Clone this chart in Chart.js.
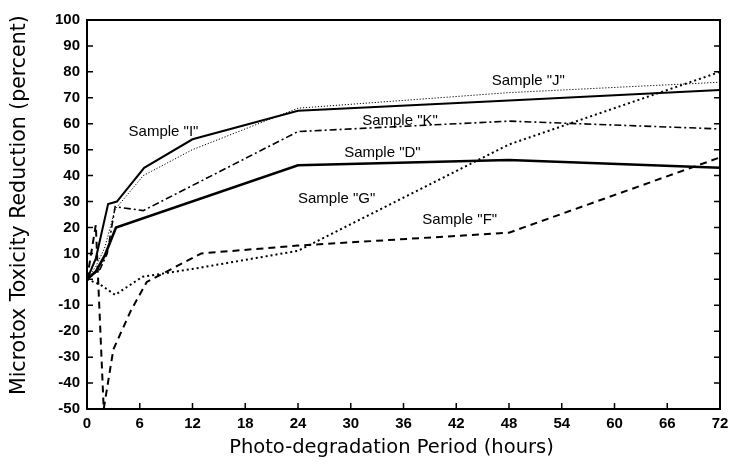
<!DOCTYPE html>
<html>
<head>
<meta charset="utf-8">
<script src="https://cdn.jsdelivr.net/npm/chart.js@4/dist/chart.umd.min.js"></script>
<style>
  html, body { margin: 0; padding: 0; background: #fff; }
  #wrap { width: 730px; height: 467px; position: relative; }
</style>
</head>
<body>
<div id="wrap"><canvas id="c"></canvas></div>
<script>
// ---- data ----
const xTicks = [0, 6, 12, 18, 24, 30, 36, 42, 48, 54, 60, 66, 72];
const yTicks = [-50, -40, -30, -20, -10, 0, 10, 20, 30, 40, 50, 60, 70, 80, 90, 100];

const sampleD_hours  = [0, 1, 2, 3.3, 24, 48, 72];
const sampleD_values = [0, 3, 9, 20, 44, 46, 43];

const sampleI_hours  = [0, 1, 2.4, 3.4, 6.5, 12, 24, 48, 72];
const sampleI_values = [0, 8, 29, 30, 43, 54, 65, 69, 73];

const sampleJ_hours  = [0, 1, 2, 3.2, 6.4, 12, 24, 48, 72];
const sampleJ_values = [0, 5, 12, 27, 40, 50, 66, 72, 76];

const sampleK_hours  = [0, 1.5, 2.3, 3.2, 6.4, 24, 48, 72];
const sampleK_values = [0, 4, 10, 28, 26.5, 57, 61, 58];

const sampleG_hours  = [0, 1.5, 3.2, 6.3, 12, 24, 48, 72];
const sampleG_values = [0, -2, -6, 1, 4, 11, 52, 80];

const sampleF_hours  = [0, 1, 1.9, 3, 5, 6.8, 13, 24, 48, 72];
const sampleF_values = [0, 21, -50, -27, -12, -1, 10, 13, 18, 47];

const seriesNames = ['Sample "D"', 'Sample "I"', 'Sample "J"', 'Sample "K"', 'Sample "G"', 'Sample "F"'];
const xTitle = 'Photo-degradation Period (hours)';
const yTitle = 'Microtox Toxicity Reduction (percent)';

// ---- build ----
function pts(h, v) { return h.map((x, i) => ({ x: x, y: v[i] })); }

const FONT = "'Liberation Sans', Arial, sans-serif";
const TFONT = "'DejaVu Sans', Verdana, sans-serif";

const boxPlugin = {
  id: 'boxTicks',
  afterDatasetsDraw(chart) {
    const { ctx, chartArea: a, scales } = chart;
    const x = scales.x, y = scales.y;
    const L = 6;
    ctx.save();
    ctx.strokeStyle = '#000';
    ctx.lineWidth = 2;
    ctx.strokeRect(a.left, a.top, a.right - a.left, a.bottom - a.top);
    ctx.lineWidth = 1.5;
    ctx.beginPath();
    xTicks.slice(1, -1).forEach(t => {
      const px = x.getPixelForValue(t);
      ctx.moveTo(px, a.bottom); ctx.lineTo(px, a.bottom - L);
    });
    yTicks.slice(1, -1).forEach(t => {
      const py = y.getPixelForValue(t);
      ctx.moveTo(a.left, py); ctx.lineTo(a.left + L, py);
      ctx.moveTo(a.right, py); ctx.lineTo(a.right - L, py);
    });
    ctx.stroke();
    ctx.restore();
  }
};

const titlePlugin = {
  id: 'axisTitles',
  afterDraw(chart, args, opts) {
    const { ctx, chartArea: a } = chart;
    ctx.save();
    ctx.fillStyle = '#000';
    ctx.textAlign = 'center';
    ctx.textBaseline = 'middle';
    ctx.font = opts.xFont;
    ctx.fillText(xTitle, a.left + opts.xFrac * (a.right - a.left), opts.xY);
    ctx.translate(opts.yX, a.top + opts.yFrac * (a.bottom - a.top));
    ctx.rotate(-Math.PI / 2);
    ctx.font = opts.yFont;
    ctx.fillText(yTitle, 0, 0);
    ctx.restore();
  }
};

const labelPlugin = {
  id: 'seriesLabels',
  afterDatasetsDraw(chart, args, opts) {
    const { ctx, scales } = chart;
    ctx.save();
    ctx.fillStyle = '#000';
    ctx.font = opts.font;
    ctx.textAlign = 'center';
    ctx.textBaseline = 'middle';
    opts.items.forEach(it => {
      ctx.fillText(it.text, scales.x.getPixelForValue(it.x), scales.y.getPixelForValue(it.y));
    });
    ctx.restore();
  }
};

const data = {
  datasets: [
    { label: seriesNames[0], data: pts(sampleD_hours, sampleD_values), borderColor: '#000', borderWidth: 2.6, borderDash: [] },
    { label: seriesNames[1], data: pts(sampleI_hours, sampleI_values), borderColor: '#000', borderWidth: 2, borderDash: [] },
    { label: seriesNames[2], data: pts(sampleJ_hours, sampleJ_values), borderColor: '#000', borderWidth: 1, borderDash: [1.2, 1.8] },
    { label: seriesNames[3], data: pts(sampleK_hours, sampleK_values), borderColor: '#000', borderWidth: 1.6, borderDash: [7, 3, 2, 3] },
    { label: seriesNames[4], data: pts(sampleG_hours, sampleG_values), borderColor: '#000', borderWidth: 2, borderDash: [2, 3] },
    { label: seriesNames[5], data: pts(sampleF_hours, sampleF_values), borderColor: '#000', borderWidth: 2, borderDash: [7, 5] }
  ]
};
data.datasets.forEach(d => { d.pointRadius = 0; d.fill = false; d.tension = 0; d.showLine = true; });

new Chart(document.getElementById('c'), {
  type: 'scatter',
  data: data,
  plugins: [boxPlugin, labelPlugin, titlePlugin],
  options: {
    responsive: true,
    maintainAspectRatio: false,
    animation: false,
    layout: { padding: { left: 0, right: 10, top: 20, bottom: 0 } },
    plugins: {
      legend: { display: false },
      tooltip: { enabled: false },
      axisTitles: {
        xFont: "19.5px " + TFONT, xFrac: 0.481, xY: 448,
        yFont: "20.5px " + TFONT, yX: 20, yFrac: 0.476
      },
      seriesLabels: {
        font: "15px " + FONT,
        items: [
          { text: seriesNames[2], x: 50.2, y: 76.7 },
          { text: seriesNames[3], x: 35.6, y: 61.3 },
          { text: seriesNames[1], x: 8.7,  y: 57.0 },
          { text: seriesNames[0], x: 33.6, y: 48.6 },
          { text: seriesNames[4], x: 28.4, y: 30.9 },
          { text: seriesNames[5], x: 42.4, y: 23.1 }
        ]
      }
    },
    scales: {
      x: {
        type: 'linear', min: 0, max: 72,
        afterBuildTicks: s => { s.ticks = xTicks.map(v => ({ value: v })); },
        afterFit: s => { s.height = 58; s.paddingRight = 0; s.paddingLeft = 0; },
        grid: { display: false, drawTicks: false },
        border: { display: false },
        ticks: { color: '#000', padding: 6, maxRotation: 0, font: { family: FONT, size: 15, weight: 'bold' } },
        title: { display: false }
      },
      y: {
        type: 'linear', min: -50, max: 100,
        afterBuildTicks: s => { s.ticks = yTicks.map(v => ({ value: v })); },
        afterFit: s => { s.width = 87; },
        grid: { display: false, drawTicks: false },
        border: { display: false },
        ticks: { color: '#000', padding: 7, font: { family: FONT, size: 15, weight: 'bold' } },
        title: { display: false }
      }
    }
  }
});
</script>
</body>
</html>
